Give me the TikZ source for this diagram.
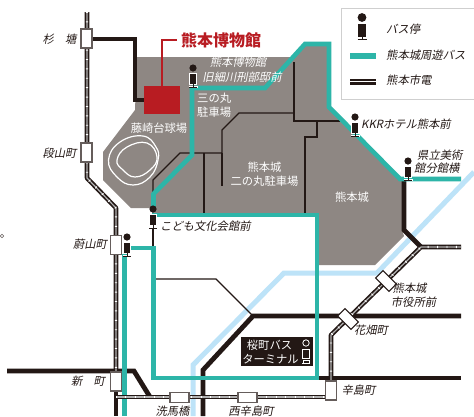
\documentclass[tikz,border=0pt]{standalone}
\usepackage{fontspec}
\setmainfont{Noto Sans CJK JP}
\newfontfamily\slantjp[FakeSlant=0.2]{Noto Sans CJK JP}
\usetikzlibrary{calc}
\definecolor{ink}{HTML}{231815}
\definecolor{castle}{HTML}{8E8783}
\definecolor{busteal}{HTML}{2DB5A8}
\definecolor{museum}{HTML}{B81C22}
\definecolor{river}{HTML}{BDE3F8}
\definecolor{frame}{HTML}{CFCFCF}
\tikzset{
  x=1pt,y=-1pt,
  busline/.style={draw=busteal,line width=4.6pt,line join=miter},
  thickrail/.style={draw=ink,line width=4.8pt,line join=miter},
  thinrail/.style={draw=ink,line width=1.3pt},
  riverline/.style={draw=river,line width=5pt},
  tramline/.style={draw=ink,line width=4.6pt,line join=round,
    postaction={draw=gray!60,line width=1.2pt},
    postaction={draw=white,line width=2.4pt,dash pattern=on 0.9pt off 8.5pt}},
  tramstop/.style={draw=ink!70,fill=white,line width=1.1pt,minimum width=#1,inner sep=0pt},
  label/.style={font=\slantjp\fontsize{11.3}{13}\selectfont,text=ink,inner sep=0pt,align=center},
  whitelabel/.style={font=\fontsize{11.3}{14}\selectfont,text=white,inner sep=0pt,align=center},
  whiteslant/.style={font=\slantjp\fontsize{11.3}{14.5}\selectfont,text=white,inner sep=0pt,align=center},
  pics/busstop/.style={code={
    \fill[ink,draw=white,line width=0.7pt] (-3.7,5.8) rectangle (3.7,16.2);
    \fill[ink] (0,0) circle (3.6);
    \draw[white,line width=2.8pt] (-4.5,19) -- (4.5,19);
    \draw[ink,line width=1pt] (-4,19) -- (4,19);
    \draw[ink,line width=1pt] (0,16) -- (0,19);
  }},
}
\begin{document}
\begin{tikzpicture}
\useasboundingbox (0,0) rectangle (474,416);
\fill[white] (0,0) rectangle (474,416);
% castle ground
\fill[castle] (137,57) -- (294,57) -- (305,44) -- (329,44) -- (329,107) -- (402,180) -- (402,230) -- (404,236)
  -- (375,265) -- (318,265) -- (318,215) -- (152,215) -- (152,208) -- (131,208) -- (103,180) -- (103,152) -- (135,110) -- cycle;
% river
\draw[riverline] (193,416) -- (193,365) -- (284,273) -- (377,273) -- (474,172);
% ballpark
\draw[white,line width=1.2pt] plot[smooth cycle,tension=0.75] coordinates {(108.5,160) (120,142) (143,136) (156,147) (158,160) (150,177) (133,185) (117,177)};
\draw[white,line width=1.2pt] plot[smooth cycle,tension=0.75] coordinates {(117,160) (127,147) (147,143) (157,157) (150,170) (135,177) (123,170)};
% thin lines
\draw[thinrail] (153,207) -- (153,180) -- (180,153) -- (222,153) -- (222,130) -- (239,113) -- (294,113);
\draw[thinrail] (222,153) -- (222,186);
\draw[thinrail] (204,153) -- (204,215);
\draw[thinrail] (294,62) -- (294,121) -- (340,121);
\draw[thinrail] (317,121) -- (317,137) -- (305,137) -- (305,215);
\draw[thinrail] (153,228) -- (153,248);
\draw[thinrail] (156,279) -- (216,279) -- (253,316);
% thick rails
\draw[thickrail] (92,39) -- (135,39) -- (135,100) -- (146,100);
\draw[thickrail] (7,371) -- (134,371) -- (150,397);
\draw[thickrail] (116,391) -- (116,416);
\draw[thickrail] (203,416) -- (203,370) -- (253,316) -- (461,316);
\draw[thickrail] (318,378) -- (461,378);
\draw[thickrail] (404,178) -- (404,230) -- (421,247);
% museum
\draw[museum,line width=1.3pt] (162,88) -- (162,40) -- (177,40);
\fill[museum] (144,86) rectangle (180,114);
% bus route
\draw[busline] (192,88) -- (265,88) -- (305,44) -- (329,44) -- (329,107) -- (400,179) -- (461,179);
\draw[busline] (192,88) -- (192,155) -- (153.5,194) -- (153.5,210);
\draw[busline] (152,215) -- (317,215) -- (317,378) -- (153.5,378) -- (153.5,248) -- (130,248);
\draw[busline] (124.5,254) -- (124.5,416);
% trams
\draw[tramline] (87,12) -- (87,178) -- (116,208) -- (116,372);
\draw[tramline] (116,397) -- (331,397);
\draw[tramline] (331,381) -- (331,335) -- (421,247) -- (461,247);
% tram stops
\node[tramstop=11pt,minimum height=19pt] (sugi) at (86.5,38.5) {};
\node[tramstop=11pt,minimum height=19pt] (danyama) at (86.5,152.5) {};
\node[tramstop=11pt,minimum height=19pt] (urayama) at (116,245) {};
\node[tramstop=11pt,minimum height=19pt] (shinmachi) at (116,381.5) {};
\node[tramstop=19pt,minimum height=10.5pt] (senba) at (179.5,397.5) {};
\node[tramstop=19pt,minimum height=10.5pt] (nishikara) at (247.5,397.5) {};
\node[tramstop=11pt,minimum height=19pt] (karashima) at (331,390.5) {};
\node[tramstop=19pt,minimum height=10.5pt,rotate=-45,draw=ink] (hanabata) at (348,319) {};
\node[tramstop=19pt,minimum height=10.5pt,rotate=-45,draw=ink] (shiyakusho) at (386,281) {};
% bus stops
\pic at (193,68) {busstop};
\pic at (355,117) {busstop};
\pic at (408,161) {busstop};
\pic at (153,209) {busstop};
\pic at (127,237) {busstop};
\fill[white] (2,236) circle (2.2);
\draw[ink!70,line width=0.6pt] (2,236) circle (1.7);
% terminal
\fill[ink] (241,337) rectangle (313,366);
\draw[white,line width=0.8pt] (306,343) circle (3.2);
\draw[white,fill=ink,line width=0.8pt] (302.5,349.5) rectangle (309.5,358);
\draw[white,line width=0.8pt] (302,363.5) -- (310,363.5) (303,360.5) rectangle (309,363.5);
\node[whitelabel,anchor=center] (terma) at (269.5,345) {桜町バス};
\node[whitelabel,anchor=center] (termb) at (270.5,359) {ターミナル};
% legend
\draw[frame,line width=1pt,fill=white] (341,8) rectangle (480,99);
\fill[ink] (362,17.5) circle (4.4);
\fill[ink] (358,24) rectangle (366,36.5);
\draw[ink,line width=1pt] (362,36.5) -- (362,39.5) (357.5,39.5) -- (366.5,39.5);
\node[label,anchor=west] (lega) at (386,29) {バス停};
\fill[busteal] (350,53) rectangle (376,59);
\node[label,anchor=west] (legb) at (386,55) {熊本城周遊バス};
\fill[ink] (350,78.5) rectangle (376,85);
\draw[white,line width=0.9pt] (350,81.7) -- (376,81.7);
\node[label,anchor=west] (legc) at (386,80.5) {熊本市電};
% labels
\node[anchor=west,inner sep=0pt,text=museum,font=\bfseries\fontsize{16}{18}\selectfont] (title) at (181,40) {熊本博物館};
\node[label] (t1) at (59.5,39) {杉\hspace{1em}塘};
\node[label] (t2) at (59.5,153) {段山町};
\node[label] (t3) at (90,244) {蔚山町};
\node[label] (t4) at (88,381) {新\hspace{1em}町};
\node[label] (t5) at (172.5,411) {洗馬橋};
\node[label] (t6) at (251,411) {西辛島町};
\node[label] (t7) at (358.5,390) {辛島町};
\node[label] (t8) at (371,330) {花畑町};
\node[label,font=\slantjp\fontsize{11.3}{14}\selectfont] (t9) at (413.5,295) {\hspace*{-8pt}熊本城\\市役所前};
\node[label,anchor=west] (t10) at (160,226) {こども文化会館前};
\node[whiteslant] (t11) at (242,69.5) {\hspace*{-8pt}熊本博物館\\旧細川刑部邸前};
\node[whitelabel,anchor=west,align=left] (t12) at (197,105) {三の丸\\駐車場};
\node[whitelabel] (t13) at (159,128) {藤崎台球場};
\node[whitelabel] (t14) at (264.5,174) {熊本城\\二の丸駐車場};
\node[whitelabel] (t15) at (352,197) {熊本城};
\node[label,anchor=west] (t16) at (361,124) {KKRホテル熊本前};
\node[label,anchor=west,align=left,font=\slantjp\fontsize{11.3}{13.5}\selectfont] (t17) at (414,161.5) {\hspace*{3pt}県立美術\\館分館横};
\end{tikzpicture}
\end{document}
